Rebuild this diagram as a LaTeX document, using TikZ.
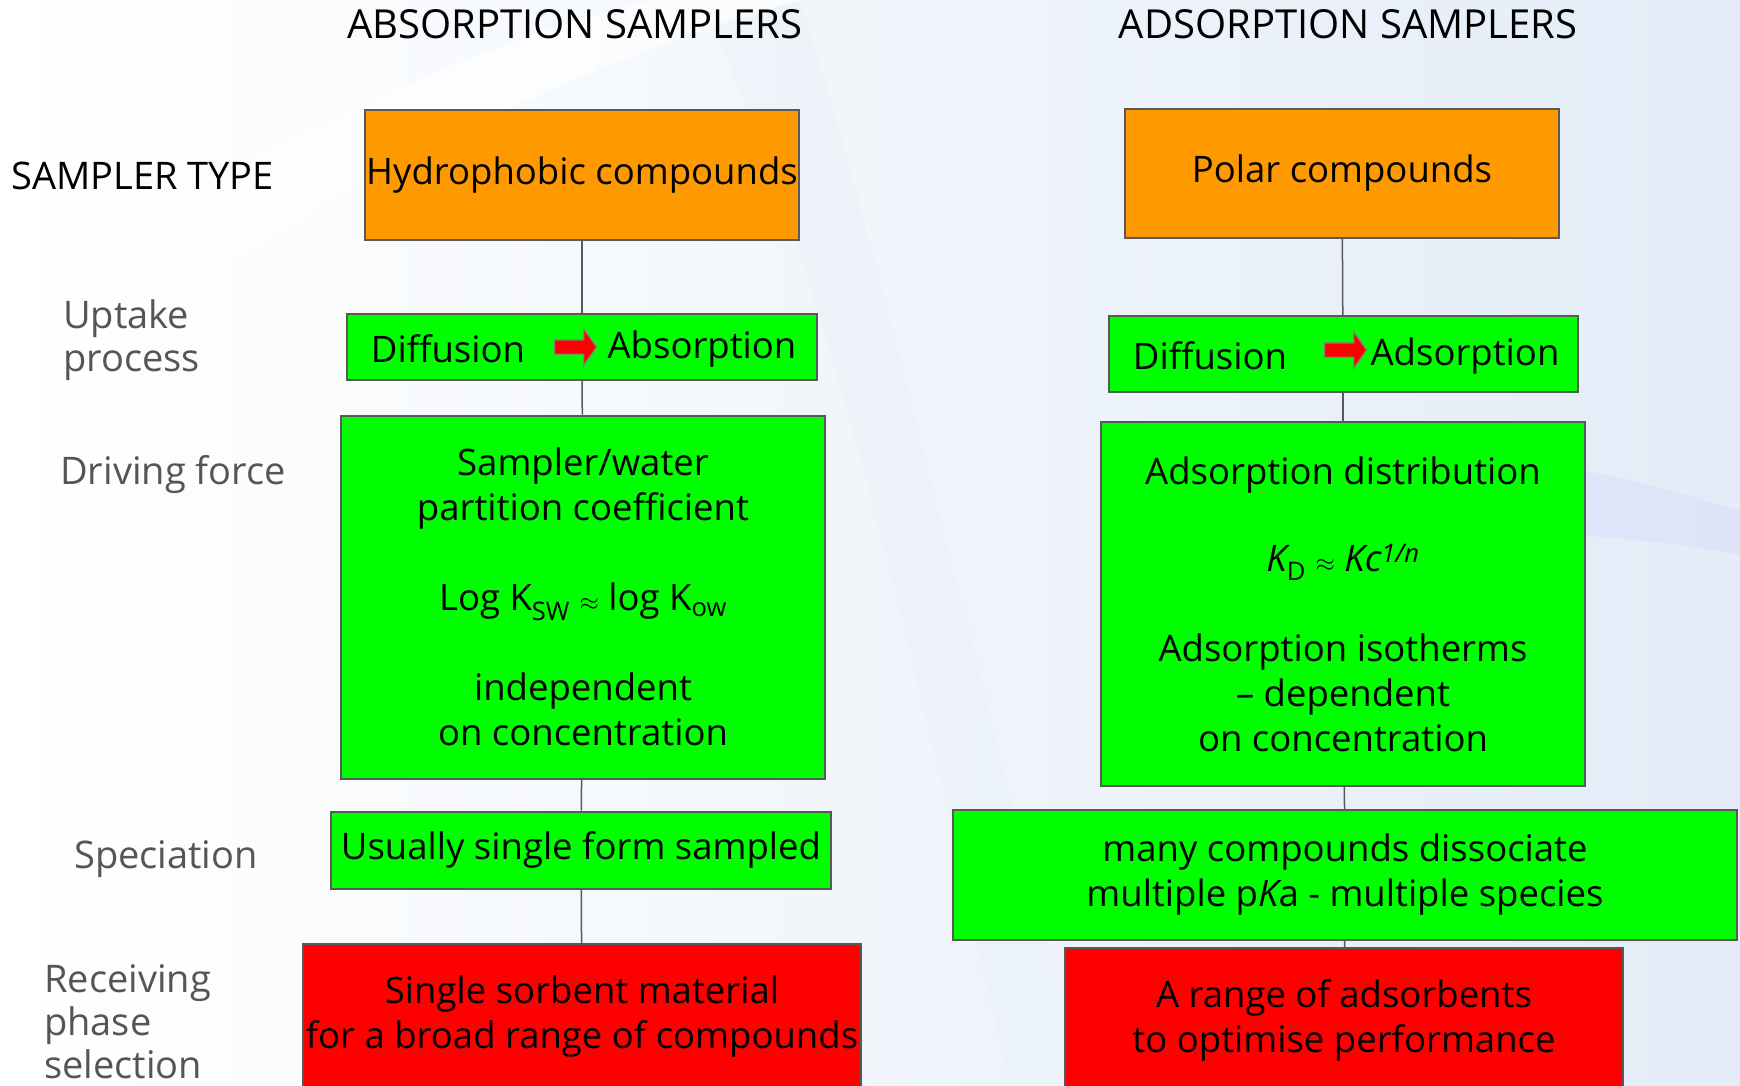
\documentclass[tikz,border=0pt]{standalone}
\usepackage{fontspec}
\setmainfont{Open Sans}
\usetikzlibrary{shapes.arrows}

\definecolor{catorange}{HTML}{FF9900}
\definecolor{boxgreen}{HTML}{00FF00}
\definecolor{boxred}{HTML}{FF0000}
\definecolor{edgegray}{HTML}{595959}
\definecolor{labelgray}{HTML}{555555}
\definecolor{bgblue}{HTML}{E3ECF7}

\tikzset{
    basebox/.style={draw=edgegray, line width=2pt, inner sep=0pt, align=center,
        font=\fontsize{36.5}{45}\selectfont},
    orangebox/.style={basebox, fill=catorange},
    greenbox/.style={basebox, fill=boxgreen},
    redbox/.style={basebox, fill=boxred},
    boxtext/.style={inner sep=0pt, font=\fontsize{36.5}{45}\selectfont},
    rowlabel/.style={anchor=west, align=left, inner sep=0pt, text=labelgray,
        font=\fontsize{38}{43}\selectfont},
    colhead/.style={inner sep=0pt, font=\fontsize{40}{45}\selectfont},
    redarrow/.style={single arrow, draw=gray, line width=1.2pt, fill=boxred,
        inner xsep=0pt, inner ysep=6.5pt, minimum height=42pt,
        single arrow head extend=11pt, single arrow tip angle=110},
    link/.style={draw=edgegray, line width=1.5pt}
}

\begin{document}
\begin{tikzpicture}[x=1pt, y=-1pt]
    \clip (0,0) rectangle (1740,1085);
    \useasboundingbox (0,0) rectangle (1740,1085);

    % background
    \shade[left color=white, right color=bgblue] (0,0) rectangle (1740,1085);
    \fill[bgblue!70, opacity=0.5] (700,0) .. controls (820,250) and (900,600) .. (1010,1085)
        -- (1080,1085) .. controls (960,600) and (880,250) .. (800,0) -- cycle;
    \fill[white, opacity=0.7] (0,330) .. controls (200,170) and (450,50) .. (650,0)
        -- (800,0) .. controls (550,70) and (250,220) .. (0,430) -- cycle;
    \fill[bgblue!80!blue!60, opacity=0.35] (1580,470) .. controls (1640,480) and (1700,500) .. (1740,510)
        -- (1740,555) .. controls (1690,545) and (1640,540) .. (1580,535) -- cycle;

    % column heads
    \node (headL) [colhead] at (575,24) {ABSORPTION SAMPLERS};
    \node (headR) [colhead] at (1348,24) {ADSORPTION SAMPLERS};

    % row labels
    \node (lblType) [rowlabel, text=black] at (11,176) {SAMPLER TYPE};
    \node (lblUptake) [rowlabel] at (63,340) {Uptake\\process};
    \node (lblDrive) [rowlabel] at (60,475) {Driving force};
    \node (lblSpec) [rowlabel] at (74,859) {Speciation};
    \node (lblRecv) [rowlabel] at (44,1022) {Receiving\\phase\\selection};

    % absorption column
    \node (hydro) [orangebox, minimum width=434pt, minimum height=130pt] at (582,175) {Hydrophobic compounds};
    \node (diffL) [greenbox, minimum width=470pt, minimum height=66pt] at (582,347) {};
    \node (diffLa) [boxtext] at (448,349) {Diffusion};
    \node (arrL) [redarrow] at (573,347) {};
    \node (diffLb) [boxtext] at (702,349) {Absorption};
    \node (partL) [greenbox, minimum width=484pt, minimum height=363pt] at (583,597) {%
        Sampler/water\\partition coefficient\\[45pt]
        Log K\textsubscript{SW} $\approx$ log K\textsubscript{ow}\\[45pt]
        independent\\on concentration};
    \node (specL) [greenbox, minimum width=500pt, minimum height=77pt] at (581,850) {Usually single form sampled};
    \node (recvL) [redbox, minimum width=558pt, minimum height=146pt] at (582,1017) {%
        Single sorbent material\\for a broad range of compounds};

    % adsorption column
    \node (polar) [orangebox, minimum width=434pt, minimum height=129pt] at (1342,173) {Polar compounds};
    \node (diffR) [greenbox, minimum width=469pt, minimum height=76pt] at (1343,354) {};
    \node (diffRa) [boxtext] at (1210,356) {Diffusion};
    \node (arrR) [redarrow] at (1343,350) {};
    \node (diffRb) [boxtext] at (1465,356) {Adsorption};
    \node (partR) [greenbox, minimum width=484pt, minimum height=364pt] at (1343,604) {%
        Adsorption distribution\\[42pt]
        {\itshape K}\textsubscript{D} $\approx$ {\itshape Kc}\textsuperscript{\itshape 1/n}\\[45pt]
        Adsorption isotherms\\\textendash{} dependent\\on concentration};
    \node (specR) [greenbox, minimum width=784pt, minimum height=130pt] at (1345,875) {%
        many compounds dissociate\\multiple p{\itshape K}a - multiple species};
    \node (recvR) [redbox, minimum width=558pt, minimum height=144pt] at (1344,1020) {%
        A range of adsorbents\\to optimise performance};

    % connectors
    \draw[link] (hydro) -- (diffL);
    \draw[link] (diffL) -- (partL);
    \draw[link] (partL) -- (specL);
    \draw[link] (specL) -- (recvL);
    \draw[link] (polar) -- (diffR);
    \draw[link] (diffR) -- (partR);
    \draw[link] (partR) -- (specR);
    \draw[link] (specR) -- (recvR);
\end{tikzpicture}
\end{document}
